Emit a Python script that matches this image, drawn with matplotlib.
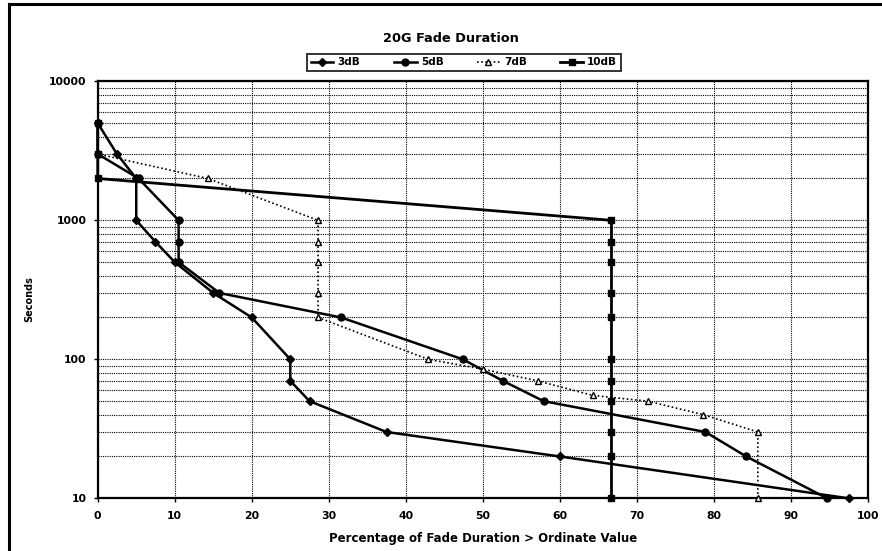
import matplotlib
matplotlib.use("Agg")
import matplotlib.pyplot as plt
from matplotlib.lines import Line2D
from matplotlib.ticker import LogLocator, NullFormatter, FixedLocator

plt.rcParams["font.family"] = ["DejaVu Sans"]
plt.rcParams["font.weight"] = "bold"

# percentage of fades longer than the ordinate value, per threshold
x_3db = [0, 2.5, 5, 5, 7.5, 10, 15, 20, 25, 25, 27.5, 37.5, 60, 97.5]
y_3db = [5000, 3000, 2000, 1000, 700, 500, 300, 200, 100, 70, 50, 30, 20, 10]

x_5db = [0, 0, 5.3, 10.5, 10.5, 10.5, 15.8, 31.6, 47.4, 52.6, 57.9, 78.9, 84.2, 94.7]
y_5db = [5000, 3000, 2000, 1000, 700, 500, 300, 200, 100, 70, 50, 30, 20, 10]

x_7db = [0, 0, 14.3, 28.6, 28.6, 28.6, 28.6, 28.6, 42.9, 50.0, 57.1, 64.3, 71.4, 78.6, 85.7, 85.7]
y_7db = [5000, 3000, 2000, 1000, 700, 500, 300, 200, 100, 85, 70, 55, 50, 40, 30, 10]

x_10db = [0, 0, 0, 66.7, 66.7, 66.7, 66.7, 66.7, 66.7, 66.7, 66.7, 66.7, 66.7, 66.7]
y_10db = [5000, 3000, 2000, 1000, 700, 500, 300, 200, 100, 70, 50, 30, 20, 10]

x_ticks = list(range(0, 101, 10))
y_ticks = [10, 100, 1000, 10000]

fig = plt.figure(figsize=(8.82, 5.51), dpi=100)
fig.patch.set_facecolor("white")
ax = fig.add_axes([0.1108, 0.0956, 0.8733, 0.7568])

ax.set_yscale("log")
ax.set_xlim(0, 100)
ax.set_ylim(10, 10000)

grid_kw = dict(color="black", linewidth=0.8, linestyle=(0, (1, 1)))
ax.xaxis.set_major_locator(FixedLocator(x_ticks))
ax.yaxis.set_major_locator(FixedLocator(y_ticks))
ax.yaxis.set_minor_locator(LogLocator(base=10, subs=range(2, 10)))
ax.yaxis.set_minor_formatter(NullFormatter())
ax.set_yticklabels([str(v) for v in y_ticks])
ax.grid(True, which="major", axis="x", **grid_kw)
ax.grid(True, which="both", axis="y", **grid_kw)
ax.set_axisbelow(True)

ax.tick_params(axis="both", which="major", labelsize=7.8, direction="out", length=3, width=1)
ax.tick_params(axis="x", which="major", pad=6)
ax.tick_params(axis="y", which="major", pad=5)
ax.tick_params(axis="y", which="minor", length=0)
for lbl in ax.get_xticklabels() + ax.get_yticklabels():
    lbl.set_fontweight("bold")
for sp in ax.spines.values():
    sp.set_linewidth(1.6)

ax.plot(x_3db, y_3db, color="black", lw=1.8, marker="D", ms=4, label="3dB", clip_on=False, zorder=4)
ax.plot(x_5db, y_5db, color="black", lw=1.8, marker="o", ms=5, label="5dB", clip_on=False, zorder=4)
ax.plot(x_7db, y_7db, color="black", lw=1.2, linestyle=(0, (1, 1.5)), marker="^", ms=4,
        mfc="white", label="7dB", clip_on=False, zorder=4)
ax.plot(x_10db, y_10db, color="black", lw=2.0, marker="s", ms=5, label="10dB", clip_on=False, zorder=4)

ax.set_xlabel("Percentage of Fade Duration > Ordinate Value", fontsize=8.5, fontweight="bold")
ax.xaxis.set_label_coords(0.5, -0.08)
ax.set_ylabel("Seconds", fontsize=7, fontweight="bold")
ax.yaxis.set_label_coords(-0.083, 0.478)

fig.text(0.511, 0.931, "20G Fade Duration", ha="center", va="center", fontsize=9.3, fontweight="bold")

leg = fig.legend(loc="center", bbox_to_anchor=(0.526, 0.887), ncol=4,
                 frameon=True, fancybox=False, handlelength=2.2, handletextpad=0.4,
                 columnspacing=3.2, borderpad=0.35, prop={"weight": "bold", "size": 7.5})
leg.get_frame().set_edgecolor("black")
leg.get_frame().set_linewidth(1.4)

# page frame along top and left edges
fig.add_artist(Line2D([0.0097, 0.0097], [0.0, 0.992], color="black", lw=2.2))
fig.add_artist(Line2D([0.0097, 1.0], [0.992, 0.992], color="black", lw=2.2))

fig.savefig("out.png", dpi=100, facecolor="white")
